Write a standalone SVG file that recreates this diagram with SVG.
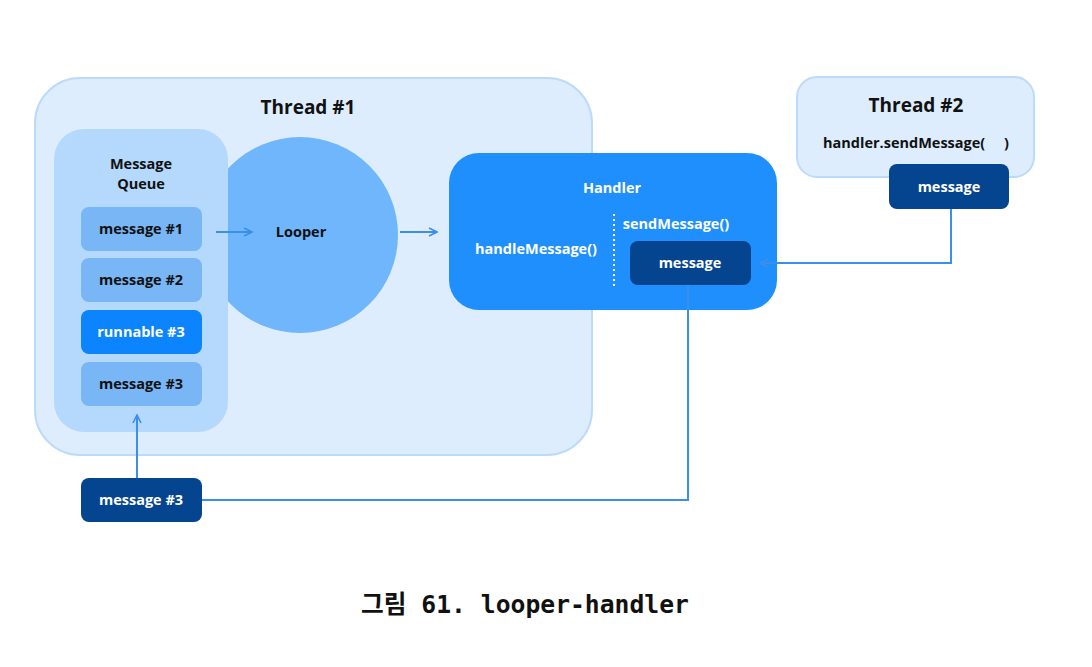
<svg xmlns="http://www.w3.org/2000/svg" width="1092" height="667" viewBox="0 0 1092 667">
<defs>
<style>
.t{font-family:"Open Sans","Noto Sans","DejaVu Sans",sans-serif;font-weight:700;text-anchor:middle}
.s{font-size:14.5px}
.b{font-size:19px}
.dk{fill:#111}
.wh{fill:#fff}
.frame{fill:#ddedfe;stroke:#bcdbfa;stroke-width:2}
.msg{fill:#78b6f6}
.navy{fill:#05448f}
.conn{fill:none;stroke:#3b8fe8;stroke-width:2}
</style>
<marker id="ah" viewBox="0 0 10 10" refX="9" refY="5" markerWidth="10" markerHeight="10" markerUnits="userSpaceOnUse" orient="auto">
<path d="M1,1 L9,5 L1,9" fill="none" stroke="#3b8fe8" stroke-width="1.6"/>
</marker>
</defs>
<rect width="1092" height="667" fill="#fff"/>
<g id="thread1">
<rect class="frame" x="35" y="78" width="557" height="377" rx="45"/>
<text class="t dk b" x="308" y="114">Thread #1</text>
</g>
<g id="looper">
<circle cx="300" cy="235" r="98" fill="#70b6fc"/>
<text class="t dk s" x="301" y="237">Looper</text>
</g>
<g id="queue">
<rect x="54" y="129" width="174" height="303" rx="30" fill="#b4d9fd"/>
<text class="t dk s" x="141" y="169">Message</text>
<text class="t dk s" x="141" y="189">Queue</text>
</g>
<g id="msg1"><rect class="msg" x="81" y="207" width="121" height="44" rx="8"/><text class="t dk s" x="141" y="234">message #1</text></g>
<g id="msg2"><rect class="msg" x="81" y="258" width="121" height="44" rx="8"/><text class="t dk s" x="141" y="285">message #2</text></g>
<g id="run3"><rect x="81" y="310" width="121" height="44" rx="8" fill="#0b84fe"/><text class="t wh s" x="141" y="337">runnable #3</text></g>
<g id="msg3"><rect class="msg" x="81" y="362" width="121" height="44" rx="8"/><text class="t dk s" x="141" y="389">message #3</text></g>
<g id="handler">
<rect x="449" y="153" width="328" height="157" rx="30" fill="#1f8ffe"/>
<text class="t wh s" x="612" y="193">Handler</text>
<line x1="614" y1="214" x2="614" y2="287" stroke="#fff" stroke-width="2" stroke-dasharray="2,3"/>
<text class="t wh s" x="536" y="254">handleMessage()</text>
<text class="t wh s" x="676" y="229">sendMessage()</text>
</g>
<g id="handlerMsg"><rect class="navy" x="630" y="241" width="121" height="44" rx="8"/><text class="t wh s" x="690" y="268">message</text></g>
<g id="thread2">
<rect class="frame" x="797" y="77" width="237" height="100" rx="20"/>
<text class="t dk b" x="916" y="112">Thread #2</text>
<text class="t dk s" x="916" y="148" xml:space="preserve">handler.sendMessage(     )</text>
</g>
<g id="t2msg"><rect class="navy" x="889" y="164" width="120" height="45" rx="8"/><text class="t wh s" x="949" y="192">message</text></g>
<g id="msg3out"><rect class="navy" x="81" y="478" width="121" height="44" rx="8"/><text class="t wh s" x="141" y="505">message #3</text></g>
<g id="connectors">
<line class="conn" x1="216" y1="232" x2="252" y2="232" marker-end="url(#ah)"/>
<line class="conn" x1="400" y1="232" x2="437" y2="232" marker-end="url(#ah)"/>
<polyline class="conn" points="951,209 951,263 760,263" marker-end="url(#ah)"/>
<polyline class="conn" points="688,285 688,500 202,500"/>
<line class="conn" x1="137" y1="478" x2="137" y2="415" marker-end="url(#ah)"/>
</g>
<text x="525" y="613" font-family="'DejaVu Sans Mono','Noto Sans CJK KR',monospace" font-weight="700" font-size="24.7" text-anchor="middle" fill="#111">그림 61. looper-handler</text>
</svg>
